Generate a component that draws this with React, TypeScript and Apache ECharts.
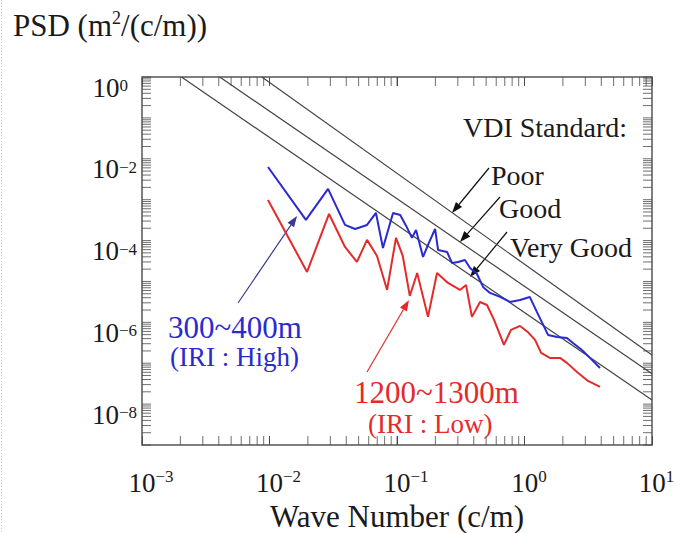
import React, { useEffect, useRef } from 'react';
import * as echarts from 'echarts';

const FONT = '"Liberation Serif", "Times New Roman", Times, serif';

// Wave number (c/m) and PSD (m^2/(c/m))
const blueWave = [0.00973, 0.0193, 0.0288, 0.0391, 0.0469, 0.0582, 0.0684, 0.0776, 0.0931, 0.106, 0.118, 0.131, 0.141, 0.16, 0.175, 0.199, 0.21, 0.247, 0.27, 0.301, 0.341, 0.374, 0.424, 0.473, 0.536, 0.643, 0.769, 0.923, 1.1, 1.25, 1.53, 1.8, 2.15, 2.4, 2.82, 3.26, 3.91];
const bluePsd = [6.3e-3, 3.19e-4, 1.83e-3, 2.41e-4, 1.92e-4, 2.41e-4, 4.73e-4, 6.59e-5, 4.73e-4, 4.23e-4, 2.28e-4, 1.16e-4, 1.82e-4, 3.97e-5, 7.8e-5, 1.92e-4, 5.89e-5, 5.26e-5, 2.83e-5, 3.0e-5, 3.36e-5, 2.14e-5, 1.52e-5, 7.34e-6, 5.24e-6, 4.18e-6, 3.15e-6, 3.53e-6, 4.18e-6, 1.8e-6, 4.92e-7, 4.4e-7, 4.16e-7, 3.13e-7, 2.11e-7, 1.35e-7, 7.67e-8];

const redWave = [0.00973, 0.0197, 0.0293, 0.0391, 0.0485, 0.0582, 0.0697, 0.0836, 0.0982, 0.111, 0.126, 0.144, 0.175, 0.206, 0.251, 0.312, 0.348, 0.387, 0.448, 0.508, 0.577, 0.69, 0.783, 0.923, 1.06, 1.21, 1.35, 1.58, 1.9, 2.15, 2.58, 3.15, 3.91];
const redPsd = [9.84e-4, 1.71e-5, 4.47e-4, 6.98e-5, 3.0e-5, 1.04e-4, 4.2e-5, 6.2e-6, 1.16e-4, 4.2e-5, 4.42e-6, 1.61e-5, 1.36e-6, 1.61e-5, 9.19e-6, 6.2e-6, 8.2e-6, 1.36e-6, 3.15e-6, 2.66e-6, 1.15e-6, 2.8e-7, 6.52e-7, 8.17e-7, 5.82e-7, 3.72e-7, 1.79e-7, 1.35e-7, 1.35e-7, 1.02e-7, 6.13e-8, 3.69e-8, 2.64e-8];

// VDI standard reference lines (end points)
const vdiPoorWave = [0.00871, 10];
const vdiPoorPsd = [1, 1.58e-7];
const vdiGoodWave = [0.00407, 10];
const vdiGoodPsd = [1, 5.5e-8];
const vdiVeryGoodWave = [0.00204, 10];
const vdiVeryGoodPsd = [1, 1.26e-8];

// tick labels (exponents of 10)
const xLabelExps = [-3, -2, -1, 0, 1];
const yLabelExps = [0, -2, -4, -6, -8];

// tick marks of the log axes
const xTickVals = [
  0.002, 0.003, 0.004, 0.005, 0.006, 0.007, 0.008, 0.009,
  0.01, 0.02, 0.03, 0.04, 0.05, 0.06, 0.07, 0.08, 0.09,
  0.1, 0.2, 0.3, 0.4, 0.5, 0.6, 0.7, 0.8, 0.9,
  1, 2, 3, 4, 5, 6, 7, 8, 9,
];
const yDecades = [-9, -8, -7, -6, -5, -4, -3, -2, -1];
const tickMultipliers = [1, 2, 3, 4, 5, 6, 7, 8, 9];
const yTickVals = yDecades.flatMap((e) => tickMultipliers.map((m) => m * Math.pow(10, e))).concat([1]);

const X_MIN = 0.001;
const X_MAX = 10;
const Y_MIN = 1e-9;
const Y_MAX = 1;
// a hair inside the frame so that the marks are not dropped at the extent
const Y_LOW_EDGE = Y_MIN * 1.002;
const Y_HIGH_EDGE = Y_MAX / 1.002;

const zip = (a: number[], b: number[]) => a.map((v, i) => [v, b[i]]);
const supText = (e: number) => (e < 0 ? '\u2212' + Math.abs(e) : String(e));

const TICK = '#4a4a4a';
const TLEN = 9;

function tickSeries(data: number[][], size: number[], offset: number[]) {
  return {
    type: 'scatter',
    data,
    symbol: 'rect',
    symbolSize: size,
    symbolOffset: offset,
    itemStyle: { color: TICK, borderWidth: 0 },
    silent: true,
    clip: false,
    z: 5,
    emphasis: { disabled: true },
  };
}

function arrow(x1: number, y1: number, x2: number, y2: number, color: string) {
  const dx = x2 - x1;
  const dy = y2 - y1;
  const len = Math.hypot(dx, dy);
  const ux = dx / len;
  const uy = dy / len;
  const head = 11;
  const w = 4;
  const bx = x2 - ux * head;
  const by = y2 - uy * head;
  const px = -uy * w;
  const py = ux * w;
  return [
    { type: 'line', silent: true, shape: { x1, y1, x2: bx, y2: by }, style: { stroke: color, lineWidth: 1.2 } },
    {
      type: 'polygon',
      silent: true,
      shape: { points: [[x2, y2], [bx + px, by + py], [bx - px, by - py]] },
      style: { fill: color },
    },
  ];
}

function txt(text: string, x: number, y: number, size: number, color: string) {
  return {
    type: 'text',
    x,
    y,
    silent: true,
    style: {
      text,
      fill: color,
      font: `${size}px ${FONT}`,
      textAlign: 'left',
      textVerticalAlign: 'middle',
      verticalAlign: 'middle',
    },
  };
}

const BLUE = '#2a2ad0';
const RED = '#e42a2a';
const INK = '#1a1a1a';

const majorTick = { show: true, inside: true, length: TLEN, lineStyle: { color: TICK, width: 1 } };

export default function App() {
  const ref = useRef<HTMLDivElement>(null);

  useEffect(() => {
    if (!ref.current) return;
    const chart = echarts.init(ref.current, undefined, { renderer: 'svg' });
    const option: any = {
      animation: false,
      backgroundColor: '#fff',
      textStyle: { fontFamily: FONT },
      title: {
        text: 'PSD (m{s|2}/(c/m))',
        left: 13,
        top: 9,
        padding: 0,
        textStyle: {
          fontSize: 31,
          fontFamily: FONT,
          fontWeight: 'normal',
          color: INK,
          lineHeight: 32,
          rich: {
            s: { fontSize: 18, fontFamily: FONT, color: INK, verticalAlign: 'top', lineHeight: 16 },
          },
        },
      },
      grid: {
        left: 142,
        right: 23,
        top: 77,
        bottom: 88,
        show: true,
        borderColor: '#555',
        borderWidth: 1.5,
        containLabel: false,
        outerBoundsMode: 'none',
      },
      xAxis: [
        {
          type: 'log',
          logBase: 10,
          min: X_MIN,
          max: X_MAX,
          splitNumber: 4,
          position: 'bottom',
          axisLine: { show: false },
          axisTick: majorTick,
          splitLine: { show: false },
          name: 'Wave Number (c/m)',
          nameLocation: 'middle',
          nameGap: 53,
          nameTextStyle: { fontSize: 31, fontFamily: FONT, color: INK },
          axisLabel: {
            margin: 23,
            verticalAlign: 'top',
            formatter: (v: number) => {
              const e = Math.round(Math.log10(v));
              if (!xLabelExps.includes(e)) return '';
              return `{${e < 0 ? 'pn' : 'pp'}| }{b|10}{s|${supText(e)}}`;
            },
            rich: {
              b: { fontSize: 27, fontFamily: FONT, color: INK, lineHeight: 28, verticalAlign: 'bottom' },
              s: { fontSize: 17, fontFamily: FONT, color: INK, lineHeight: 2, verticalAlign: 'top' },
              pn: { width: 18, fontSize: 16, lineHeight: 2 },
              pp: { width: 9, fontSize: 16, lineHeight: 2 },
            },
          },
        },
        {
          type: 'log',
          logBase: 10,
          min: X_MIN,
          max: X_MAX,
          splitNumber: 4,
          position: 'top',
          axisLine: { show: false },
          axisTick: majorTick,
          axisLabel: { show: false },
          splitLine: { show: false },
        },
      ],
      yAxis: {
        type: 'log',
        logBase: 10,
        min: Y_MIN,
        max: Y_MAX,
        splitNumber: 9,
        axisLine: { show: false },
        axisTick: { show: false },
        splitLine: { show: false },
        axisLabel: {
          margin: 5,
          align: 'right',
          verticalAlign: 'top',
          formatter: (v: number) => {
            const e = Math.round(Math.log10(v));
            if (!yLabelExps.includes(e)) return '';
            return `{b|10}{s|${supText(e)}}` + (e >= 0 ? '{q| }' : '');
          },
          rich: {
            b: { fontSize: 27, fontFamily: FONT, color: INK, lineHeight: 24, verticalAlign: 'bottom' },
            s: { fontSize: 17, fontFamily: FONT, color: INK, lineHeight: 2, verticalAlign: 'top' },
            q: { width: 9, fontSize: 16, lineHeight: 2 },
          },
        },
      },
      series: [
        {
          type: 'line',
          name: 'Poor',
          data: zip(vdiPoorWave, vdiPoorPsd),
          symbol: 'none',
          silent: true,
          lineStyle: { color: '#444', width: 1.2 },
          itemStyle: { color: '#444' },
        },
        {
          type: 'line',
          name: 'Good',
          data: zip(vdiGoodWave, vdiGoodPsd),
          symbol: 'none',
          silent: true,
          lineStyle: { color: '#444', width: 1.2 },
          itemStyle: { color: '#444' },
        },
        {
          type: 'line',
          name: 'Very Good',
          data: zip(vdiVeryGoodWave, vdiVeryGoodPsd),
          symbol: 'none',
          silent: true,
          lineStyle: { color: '#444', width: 1.2 },
          itemStyle: { color: '#444' },
        },
        {
          type: 'line',
          name: '300~400m',
          data: zip(blueWave, bluePsd),
          symbol: 'none',
          silent: true,
          lineStyle: { color: BLUE, width: 2 },
          itemStyle: { color: BLUE },
          z: 4,
        },
        {
          type: 'line',
          name: '1200~1300m',
          data: zip(redWave, redPsd),
          symbol: 'none',
          silent: true,
          lineStyle: { color: RED, width: 2 },
          itemStyle: { color: RED },
          z: 3,
        },
        tickSeries(xTickVals.map((v) => [v, Y_LOW_EDGE]), [1, TLEN], [0, -TLEN / 2]),
        tickSeries(xTickVals.map((v) => [v, Y_HIGH_EDGE]), [1, TLEN], [0, TLEN / 2]),
        tickSeries(yTickVals.map((v) => [X_MIN, v]), [TLEN, 1], [TLEN / 2, 0]),
        tickSeries(yTickVals.map((v) => [X_MAX, v]), [TLEN, 1], [-TLEN / 2, 0]),
      ],
      graphic: [
        {
          type: 'line',
          silent: true,
          shape: { x1: 1.5, y1: 0, x2: 1.5, y2: 533 },
          style: { stroke: '#b9c6e6', lineWidth: 1, lineDash: [1, 2] },
        },
        txt('VDI Standard:', 463, 127, 28, INK),
        txt('Poor', 491, 175, 28, INK),
        txt('Good', 499, 208, 28, INK),
        txt('Very Good', 510, 247, 28, INK),
        txt('300~400m', 168, 327, 31, BLUE),
        txt('(IRI : High)', 170, 357, 27, BLUE),
        txt('1200~1300m', 354, 392, 31, RED),
        txt('(IRI : Low)', 368, 424, 27, RED),
        ...arrow(489, 168, 452, 213, '#111'),
        ...arrow(500, 197, 460, 242, '#111'),
        ...arrow(507, 232, 470, 277, '#111'),
        ...arrow(238, 303, 297, 216, '#3a3a90'),
        ...arrow(367, 372, 409, 300, RED),
      ],
    };
    chart.setOption(option);
    return () => chart.dispose();
  }, []);

  return (
    <div
      ref={ref}
      style={{ position: 'fixed', left: 0, top: 0, width: 675, height: 533, background: '#fff' }}
    />
  );
}
